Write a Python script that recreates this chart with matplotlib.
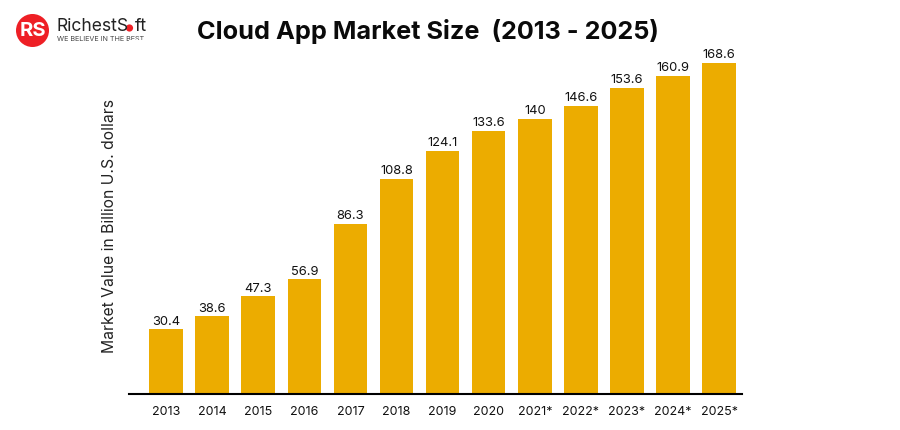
import matplotlib
matplotlib.use("Agg")
import matplotlib.pyplot as plt
from matplotlib.patches import Circle

# Category labels and the numbers printed above the bars
years = ["2013", "2014", "2015", "2016", "2017", "2018", "2019", "2020",
         "2021*", "2022*", "2023*", "2024*", "2025*"]
printed_values = ["30.4", "38.6", "47.3", "56.9", "86.3", "108.8", "124.1",
                  "133.6", "140", "146.6", "153.6", "160.9", "168.6"]
# Bar heights as drawn in the picture (it is not exactly to scale with the labels)
drawn_heights = [32.7, 39.3, 49.6, 58.3, 86.4, 109.4, 123.7, 133.9, 140.0,
                 146.7, 155.9, 162.0, 168.6]

W, H = 900, 430
FONT = "Inter"
GOLD = "#ECAC00"
INK = "#111111"
RED = "#EE1F25"

fig = plt.figure(figsize=(W / 100, H / 100), dpi=100, facecolor="white")
plt.rcParams["font.family"] = FONT

# axes placed by pixel bounds of the baseline
left, right, base, top = 129, 742, 393.5, 40
ax = fig.add_axes([left / W, 1 - base / H, (right - left) / W, (base - top) / H])
ax.set_xlim((left - 166) / 46.1, (right - 166) / 46.1)
ax.set_ylim(0, (base - top) / 1.96)

xs = list(range(len(years)))
bars = ax.bar(xs, drawn_heights, width=33.5 / 46.1, color=GOLD, linewidth=0)
for b, txt in zip(bars, printed_values):
    ax.annotate(txt, (b.get_x() + b.get_width() / 2, b.get_height()),
                xytext=(0, 1.2), textcoords="offset points", ha="center", va="bottom",
                fontsize=9.3, color=INK, family=FONT)

for s in ("top", "right", "left"):
    ax.spines[s].set_visible(False)
ax.spines["bottom"].set_linewidth(1.5)
ax.spines["bottom"].set_color("#000000")
ax.set_yticks([])
ax.set_xticks(xs, years)
ax.tick_params(axis="x", length=0, pad=9, labelsize=9, labelcolor=INK)

fig.text(110 / W, 1 - 226 / H, "Market Value in Billion U.S. dollars", rotation=90,
         ha="center", va="center", fontsize=11.3, color="#222222", family=FONT)
fig.text(428 / W, 1 - 31 / H, "Cloud App Market Size  (2013 - 2025)", ha="center", va="center",
         fontsize=18.2, fontweight="bold", color="#0A0A0A", family=FONT)

# Logo
bg = fig.add_axes([0, 0, 1, 1], zorder=-1)
bg.set_xlim(0, W)
bg.set_ylim(H, 0)
bg.axis("off")
bg.add_patch(Circle((32.5, 30.5), 16.5, color=RED, lw=0))
bg.text(32.5, 30.5, "RS", color="white", fontsize=14.5, fontweight="bold", ha="center",
        va="center", family=FONT)
bg.text(56, 26.5, "RichestS", color="#222222", fontsize=12.6, ha="left", va="center", family=FONT)
bg.text(134.5, 26.5, "ft", color="#222222", fontsize=12.6, ha="left", va="center", family=FONT)
bg.add_patch(Circle((129.5, 28), 3.6, color=RED, lw=0))
bg.text(57, 39, "WE BELIEVE IN THE BEST", color="#444444", fontsize=5.2, ha="left",
        va="center", family=FONT)

fig.savefig("out.png", dpi=100, facecolor="white")
